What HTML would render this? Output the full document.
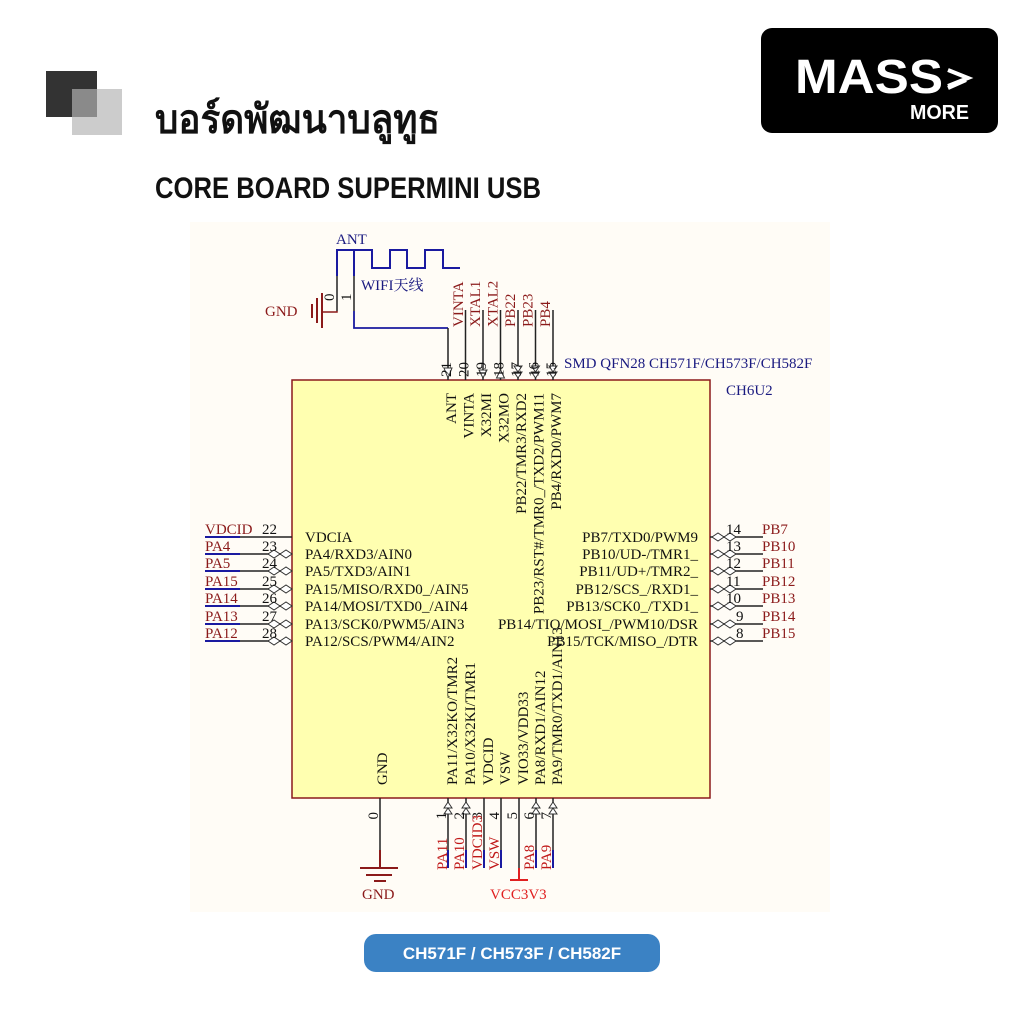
<!DOCTYPE html>
<html><head><meta charset="utf-8"><style>
html,body{margin:0;padding:0;background:#fff;width:1024px;height:1024px;overflow:hidden}
</style></head><body>
<svg width="1024" height="1024" viewBox="0 0 1024 1024" xmlns="http://www.w3.org/2000/svg" font-family="Liberation Serif, serif">
<rect width="1024" height="1024" fill="#fff"/>
<rect x="46" y="71" width="51" height="46" fill="#333"/>
<rect x="72" y="89" width="50" height="46" fill="#ccc"/>
<rect x="72" y="89" width="25" height="28" fill="#8a8a8a"/>
<text x="155" y="133" font-family="Liberation Sans, DejaVu Sans, sans-serif" font-weight="bold" font-size="40" fill="#111" textLength="285" lengthAdjust="spacingAndGlyphs">บอร์ดพัฒนาบลูทูธ</text>
<text x="155" y="198" font-family="Liberation Sans, sans-serif" font-weight="bold" font-size="30" fill="#111" textLength="386" lengthAdjust="spacingAndGlyphs">CORE BOARD SUPERMINI USB</text>
<rect x="761" y="28" width="237" height="105" rx="11" fill="#000"/>
<text x="795" y="93" font-family="Liberation Sans, sans-serif" font-weight="bold" font-size="48" fill="#fff" textLength="148" lengthAdjust="spacingAndGlyphs">MASS</text>
<path d="M948 70 L968 78 L948 86 M948 88 L966 80" stroke="#fff" stroke-width="4" fill="none"/>
<text x="910" y="119" font-family="Liberation Sans, sans-serif" font-weight="bold" font-size="20" fill="#fff" textLength="59" lengthAdjust="spacingAndGlyphs">MORE</text>
<rect x="190" y="222" width="640" height="690" fill="#fffcf6"/>
<rect x="292" y="380" width="418" height="418" fill="#ffffb0" stroke="#8b1a1a" stroke-width="1.5"/>
<g font-size="15">
<path d="M337 276 V250 H372 V268 H390 V250 H407 V268 H425 V250 H443 V268 H460" stroke="#1a1aa0" stroke-width="2" fill="none"/>
<path d="M354 250 V276" stroke="#1a1aa0" stroke-width="2"/>
<path d="M337 276 V311 M354 276 V311" stroke="#222" stroke-width="1.5"/>
<path d="M354 311 V328 H448" stroke="#1a1aa0" stroke-width="1.8" fill="none"/>
<path d="M337 311 V312 H322" stroke="#8b1a1a" stroke-width="1.5" fill="none"/>
<path d="M322 293 V328 M317 298 V323 M312 304 V318" stroke="#8b1a1a" stroke-width="2"/>
<text x="336" y="244" fill="#1a1a80">ANT</text>
<text x="361" y="290" fill="#1a1a80" font-family="Liberation Serif, Noto Serif CJK SC, serif">WIFI天线</text>
<text x="265" y="316" fill="#8b1a1a">GND</text>
<text transform="translate(334,301) rotate(-90)" fill="#111">0</text>
<text transform="translate(351,301) rotate(-90)" fill="#111">1</text>
<g stroke="#222" stroke-width="1.5">
<path d="M448 328V380M465.5 310V380M483 310V380M500.5 310V380M518 310V380M535.5 310V380M553 310V380"/>
</g>
<g fill="#fff" stroke="#333" stroke-width="1">
<path d="M444 368 L448 378 L452 368 Z"/><path d="M479 370 L483 378 L487 370 Z"/><path d="M496.5 378 L500.5 370 L504.5 378 Z"/>
<path d="M514 366 L518 372 L522 366 Z M514 372 L518 378 L522 372 Z"/>
<path d="M531.5 366 L535.5 372 L539.5 366 Z M531.5 372 L535.5 378 L539.5 372 Z"/>
<path d="M549 366 L553 372 L557 366 Z M549 372 L553 378 L557 372 Z"/>
</g>
<g fill="#8b1a1a">
<text transform="translate(463,327) rotate(-90)">VINTA</text>
<text transform="translate(480,327) rotate(-90)">XTAL1</text>
<text transform="translate(497.5,327) rotate(-90)">XTAL2</text>
<text transform="translate(515,327) rotate(-90)">PB22</text>
<text transform="translate(532.5,327) rotate(-90)">PB23</text>
<text transform="translate(550,327) rotate(-90)">PB4</text>
</g>
<g fill="#111">
<text transform="translate(451,377) rotate(-90)">21</text>
<text transform="translate(468.5,377) rotate(-90)">20</text>
<text transform="translate(486,377) rotate(-90)">19</text>
<text transform="translate(503.5,377) rotate(-90)">18</text>
<text transform="translate(521,377) rotate(-90)">17</text>
<text transform="translate(538.5,377) rotate(-90)">16</text>
<text transform="translate(556,377) rotate(-90)">15</text>
<g text-anchor="end">
<text transform="translate(456,393) rotate(-90)">ANT</text>
<text transform="translate(473.5,393) rotate(-90)">VINTA</text>
<text transform="translate(491,393) rotate(-90)">X32MI</text>
<text transform="translate(508.5,393) rotate(-90)">X32MO</text>
<text transform="translate(526,393) rotate(-90)">PB22/TMR3/RXD2</text>
<text transform="translate(543.5,393) rotate(-90)">PB23/RST#/TMR0_/TXD2/PWM11</text>
<text transform="translate(561,393) rotate(-90)">PB4/RXD0/PWM7</text>
</g>
</g>
<text x="564" y="368" fill="#1a1a80">SMD QFN28 CH571F/CH573F/CH582F</text>
<text x="726" y="395" fill="#1a1a80">CH6U2</text>
<g stroke-width="2">
<path d="M205 537H240M205 554H240M205 571H240M205 589H240M205 606H240M205 624H240M205 641H240" stroke="#1a1aa0"/>
<path d="M240 537H292M240 554H292M240 571H292M240 589H292M240 606H292M240 624H292M240 641H292" stroke="#222" stroke-width="1.5"/>
</g>
<g fill="#fff" stroke="#333" stroke-width="1">
<path d="M268 554l6-4 6 4-6 4z M280 554l6-4 6 4-6 4z"/>
<path d="M268 571l6-4 6 4-6 4z M280 571l6-4 6 4-6 4z"/>
<path d="M268 589l6-4 6 4-6 4z M280 589l6-4 6 4-6 4z"/>
<path d="M268 606l6-4 6 4-6 4z M280 606l6-4 6 4-6 4z"/>
<path d="M268 624l6-4 6 4-6 4z M280 624l6-4 6 4-6 4z"/>
<path d="M268 641l6-4 6 4-6 4z M280 641l6-4 6 4-6 4z"/>
</g>
<g fill="#8b1a1a">
<text x="205" y="534">VDCID</text><text x="205" y="551">PA4</text><text x="205" y="568">PA5</text>
<text x="205" y="586">PA15</text><text x="205" y="603">PA14</text><text x="205" y="621">PA13</text><text x="205" y="638">PA12</text>
</g>
<g fill="#111">
<text x="262" y="534">22</text><text x="262" y="551">23</text><text x="262" y="568">24</text><text x="262" y="586">25</text>
<text x="262" y="603">26</text><text x="262" y="621">27</text><text x="262" y="638">28</text>
<text x="305" y="542">VDCIA</text><text x="305" y="559">PA4/RXD3/AIN0</text><text x="305" y="576">PA5/TXD3/AIN1</text>
<text x="305" y="594">PA15/MISO/RXD0_/AIN5</text><text x="305" y="611">PA14/MOSI/TXD0_/AIN4</text>
<text x="305" y="629">PA13/SCK0/PWM5/AIN3</text><text x="305" y="646">PA12/SCS/PWM4/AIN2</text>
</g>
<path d="M710 537H763M710 554H763M710 571H763M710 589H763M710 606H763M710 624H763M710 641H763" stroke="#222" stroke-width="1.5"/>
<g fill="#fff" stroke="#333" stroke-width="1">
<path d="M712 537l6-4 6 4-6 4z M724 537l6-4 6 4-6 4z"/><path d="M712 554l6-4 6 4-6 4z M724 554l6-4 6 4-6 4z"/>
<path d="M712 571l6-4 6 4-6 4z M724 571l6-4 6 4-6 4z"/><path d="M712 589l6-4 6 4-6 4z M724 589l6-4 6 4-6 4z"/>
<path d="M712 606l6-4 6 4-6 4z M724 606l6-4 6 4-6 4z"/><path d="M712 624l6-4 6 4-6 4z M724 624l6-4 6 4-6 4z"/>
<path d="M712 641l6-4 6 4-6 4z M724 641l6-4 6 4-6 4z"/>
</g>
<g fill="#111">
<text x="726" y="534">14</text><text x="726" y="551">13</text><text x="726" y="568">12</text><text x="726" y="586">11</text>
<text x="726" y="603">10</text><text x="736" y="621">9</text><text x="736" y="638">8</text>
<g text-anchor="end">
<text x="698" y="542">PB7/TXD0/PWM9</text><text x="698" y="559">PB10/UD-/TMR1_</text><text x="698" y="576">PB11/UD+/TMR2_</text>
<text x="698" y="594">PB12/SCS_/RXD1_</text><text x="698" y="611">PB13/SCK0_/TXD1_</text>
<text x="698" y="629">PB14/TIO/MOSI_/PWM10/DSR</text><text x="698" y="646">PB15/TCK/MISO_/DTR</text>
</g>
</g>
<g fill="#8b1a1a">
<text x="762" y="534">PB7</text><text x="762" y="551">PB10</text><text x="762" y="568">PB11</text><text x="762" y="586">PB12</text>
<text x="762" y="603">PB13</text><text x="762" y="621">PB14</text><text x="762" y="638">PB15</text>
</g>
<path d="M380 798V850M448 798V850M466 798V850M484 798V850M501 798V850M519 798V868M536 798V850M553 798V850" stroke="#222" stroke-width="1.5"/>
<path d="M448 850V868M466 850V868M484 850V868M501 850V868M536 850V868M553 850V868" stroke="#1a1aa0" stroke-width="2"/>
<g fill="#fff" stroke="#333" stroke-width="1">
<path d="M444 808l4-6 4 6z M444 814l4-6 4 6z"/><path d="M462 808l4-6 4 6z M462 814l4-6 4 6z"/>
<path d="M532 808l4-6 4 6z M532 814l4-6 4 6z"/><path d="M549 808l4-6 4 6z M549 814l4-6 4 6z"/>
</g>
<path d="M380 850V868M360 868H398M366 875H392M374 881H386" stroke="#8b1a1a" stroke-width="2"/>
<path d="M519 868V880M510 880H528" stroke="#e02020" stroke-width="2"/>
<text x="362" y="899" fill="#8b1a1a">GND</text>
<text x="490" y="899" fill="#e02020">VCC3V3</text>
<g fill="#111">
<text transform="translate(378,812) rotate(-90)" text-anchor="end">0</text>
<text transform="translate(446,812) rotate(-90)" text-anchor="end">1</text>
<text transform="translate(464,812) rotate(-90)" text-anchor="end">2</text>
<text transform="translate(482,812) rotate(-90)" text-anchor="end">3</text>
<text transform="translate(499,812) rotate(-90)" text-anchor="end">4</text>
<text transform="translate(517,812) rotate(-90)" text-anchor="end">5</text>
<text transform="translate(534,812) rotate(-90)" text-anchor="end">6</text>
<text transform="translate(551,812) rotate(-90)" text-anchor="end">7</text>
<text transform="translate(387,785) rotate(-90)">GND</text>
<text transform="translate(457,785) rotate(-90)">PA11/X32KO/TMR2</text>
<text transform="translate(475,785) rotate(-90)">PA10/X32KI/TMR1</text>
<text transform="translate(493,785) rotate(-90)">VDCID</text>
<text transform="translate(510,785) rotate(-90)">VSW</text>
<text transform="translate(528,785) rotate(-90)">VIO33/VDD33</text>
<text transform="translate(545,785) rotate(-90)">PA8/RXD1/AIN12</text>
<text transform="translate(562,785) rotate(-90)">PA9/TMR0/TXD1/AIN13</text>
</g>
<g fill="#c01818">
<text transform="translate(447,870) rotate(-90)">PA11</text>
<text transform="translate(464,870) rotate(-90)">PA10</text>
<text transform="translate(482,870) rotate(-90)">VDCID3</text>
<text transform="translate(499,870) rotate(-90)">VSW</text>
<text transform="translate(534,870) rotate(-90)">PA8</text>
<text transform="translate(551,870) rotate(-90)">PA9</text>
</g>
</g>
<rect x="364" y="934" width="296" height="38" rx="12" fill="#3b82c4"/>
<text x="512" y="959" text-anchor="middle" font-family="Liberation Sans, sans-serif" font-weight="bold" font-size="17" fill="#fff">CH571F / CH573F / CH582F</text>
</svg>
</body></html>
